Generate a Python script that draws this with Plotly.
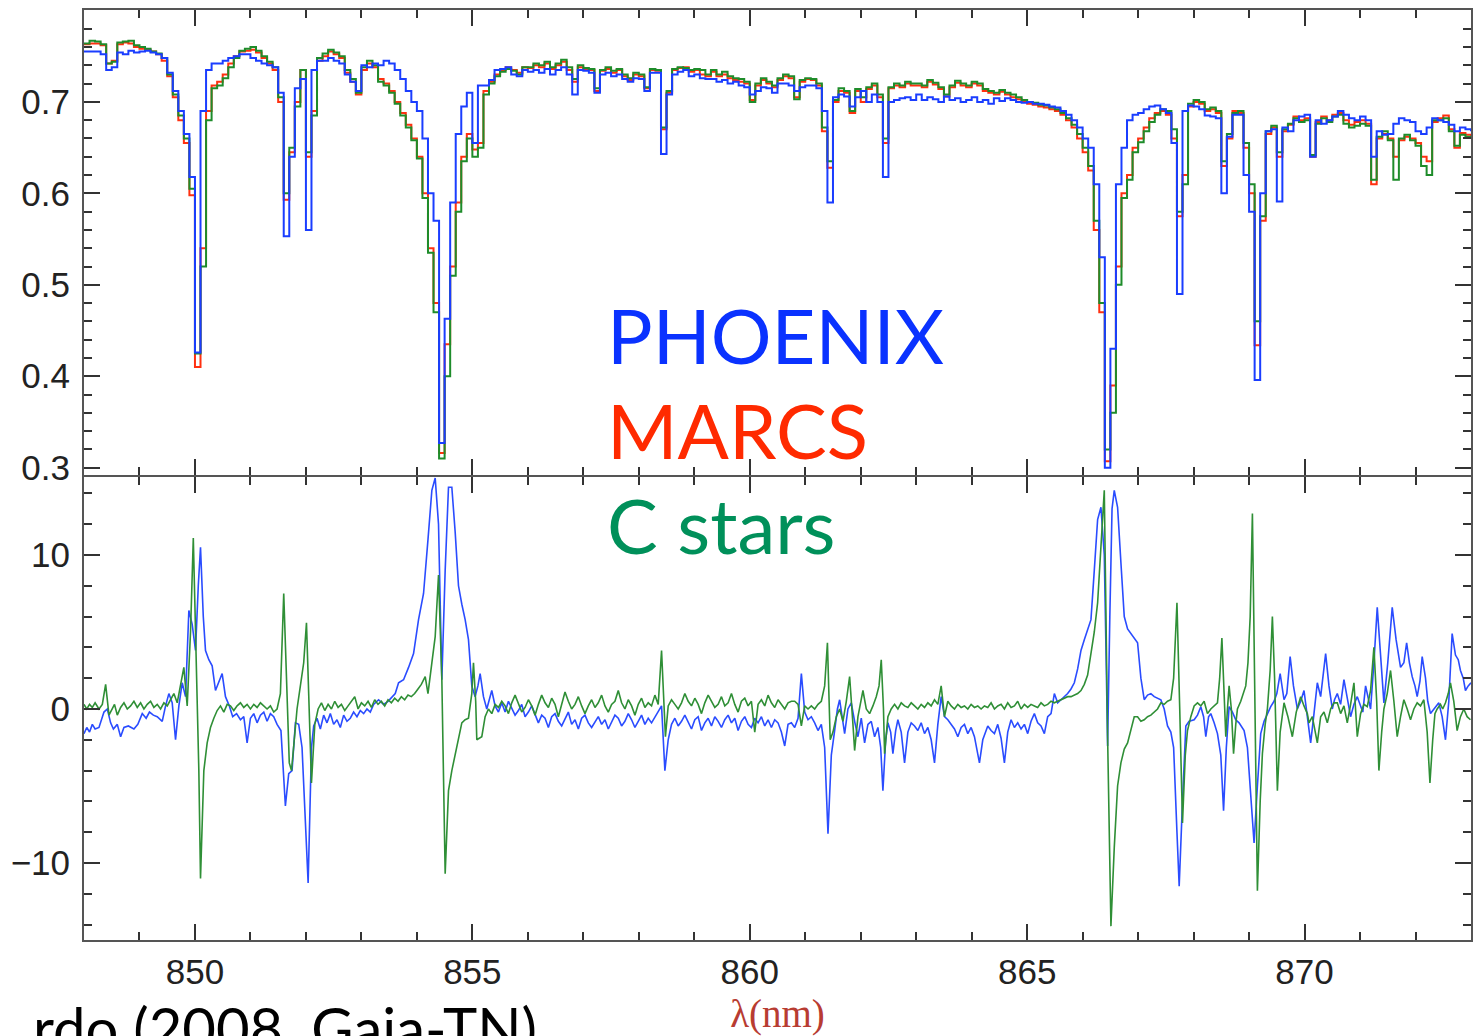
import plotly.graph_objects as go

# ---------------- top panel: normalised flux, 0.1 nm bins from 848.0 to 873.0 nm ----------------
wl_start = 848.0
wl_step = 0.1

marcs = [
    .763, .764, .764, .762, .742, .745, .763, .765, .764, .760,
    .758, .757, .755, .752, .745, .728, .705, .680, .655, .598,
    .410, .540, .690, .718, .722, .730, .742, .750, .755, .756,
    .757, .754, .748, .742, .735, .700, .593, .645, .700, .735,
    .640, .690, .745, .750, .755, .752, .748, .732, .722, .708,
    .735, .742, .738, .725, .720, .712, .700, .688, .675, .660,
    .640, .600, .540, .480, .316, .435, .520, .590, .640, .665,
    .648, .655, .712, .722, .730, .735, .738, .735, .732, .738,
    .737, .740, .738, .742, .736, .740, .744, .735, .722, .738,
    .736, .735, .712, .734, .736, .732, .735, .728, .724, .730,
    .728, .715, .735, .734, .670, .710, .735, .737, .738, .733,
    .735, .730, .728, .733, .728, .730, .726, .724, .722, .720,
    .702, .718, .724, .720, .716, .724, .728, .726, .705, .722,
    .725, .724, .718, .668, .628, .700, .712, .710, .688, .712,
    .700, .714, .718, .705, .655, .715, .718, .716, .720, .718,
    .718, .716, .722, .719, .714, .706, .716, .721, .718, .716,
    .720, .718, .712, .710, .708, .711, .708, .705, .703, .700,
    .698, .697, .695, .694, .692, .690, .686, .680, .672, .660,
    .645, .625, .560, .470, .307, .390, .520, .600, .620, .650,
    .660, .672, .682, .688, .690, .686, .660, .575, .620, .695,
    .700, .698, .690, .692, .688, .630, .660, .690, .688, .650,
    .600, .434, .570, .665, .672, .640, .668, .675, .684, .680,
    .682, .640, .678, .684, .680, .686, .688, .680, .675, .678,
    .680, .676, .610, .660, .665, .660, .640, .658, .662, .660,
    .655, .640, .635, .678, .682, .685, .670, .650, .666, .664,
    .662,
]

cstars = [
    .764, .767, .766, .763, .742, .744, .765, .766, .767, .762,
    .760, .758, .755, .753, .748, .730, .708, .685, .660, .605,
    .425, .520, .680, .715, .718, .726, .738, .748, .756, .758,
    .760, .756, .750, .744, .738, .705, .600, .650, .695, .735,
    .645, .685, .748, .753, .757, .754, .750, .735, .725, .710,
    .738, .745, .740, .722, .718, .710, .698, .685, .672, .658,
    .638, .595, .535, .470, .310, .400, .510, .580, .635, .660,
    .640, .650, .708, .720, .728, .733, .736, .734, .730, .738,
    .738, .742, .740, .744, .738, .742, .746, .738, .725, .740,
    .737, .736, .715, .735, .738, .734, .736, .730, .726, .732,
    .730, .716, .736, .735, .672, .712, .736, .738, .737, .735,
    .736, .735, .730, .735, .730, .733, .728, .726, .725, .722,
    .700, .720, .726, .722, .718, .726, .730, .728, .703, .724,
    .726, .725, .720, .672, .635, .702, .715, .712, .690, .714,
    .705, .716, .720, .708, .660, .716, .720, .718, .722, .720,
    .720, .718, .724, .721, .716, .708, .718, .723, .720, .718,
    .722, .720, .714, .712, .710, .713, .710, .708, .705, .702,
    .700, .699, .697, .696, .694, .692, .688, .682, .675, .665,
    .650, .630, .570, .480, .320, .360, .500, .595, .615, .645,
    .656, .668, .678, .686, .692, .690, .670, .580, .610, .698,
    .702, .700, .692, .694, .690, .635, .665, .688, .690, .655,
    .610, .460, .575, .668, .674, .645, .670, .676, .682, .678,
    .680, .642, .676, .682, .678, .684, .686, .676, .672, .674,
    .676, .674, .615, .662, .668, .658, .615, .660, .664, .658,
    .652, .630, .620, .680, .680, .682, .668, .652, .664, .662,
    .660,
]

phoenix = [
    .755, .755, .755, .752, .735, .738, .754, .752, .756, .754,
    .755, .756, .754, .752, .748, .732, .712, .690, .665, .618,
    .426, .690, .735, .742, .742, .745, .748, .750, .752, .752,
    .748, .745, .742, .740, .738, .710, .553, .640, .715, .725,
    .560, .735, .745, .745, .748, .745, .742, .730, .722, .712,
    .740, .738, .742, .740, .745, .742, .735, .725, .712, .700,
    .690, .660, .600, .570, .327, .463, .590, .665, .695, .710,
    .655, .718, .718, .724, .735, .736, .738, .730, .728, .735,
    .733, .735, .732, .736, .730, .735, .738, .730, .708, .735,
    .734, .732, .710, .730, .732, .728, .730, .725, .722, .726,
    .725, .712, .732, .732, .643, .708, .730, .733, .735, .728,
    .730, .726, .725, .725, .722, .724, .720, .722, .718, .716,
    .708, .712, .716, .715, .710, .720, .720, .718, .712, .716,
    .718, .718, .715, .690, .590, .705, .708, .706, .695, .705,
    .712, .700, .708, .700, .618, .700, .702, .704, .705, .702,
    .708, .702, .705, .703, .700, .706, .702, .704, .700, .702,
    .705, .700, .702, .698, .704, .701, .704, .702, .700, .699,
    .700, .698, .698, .697, .695, .694, .690, .686, .680, .672,
    .660, .650, .610, .530, .300, .430, .610, .650, .680, .686,
    .688, .692, .695, .696, .692, .688, .655, .490, .690, .696,
    .695, .692, .685, .684, .682, .600, .662, .686, .686, .620,
    .580, .396, .600, .668, .670, .591, .672, .668, .680, .684,
    .686, .640, .680, .676, .680, .684, .690, .686, .682, .680,
    .684, .680, .640, .668, .664, .665, .676, .682, .680, .678,
    .668, .665, .672, .682, .680, .678, .675, .668, .672, .670,
    .668,
]

# ---------------- bottom panel: difference signal (PHOENIX and C stars) ----------------
phx_diff_wl = [
    848.00, 848.05, 848.10, 848.15, 848.20, 848.27, 848.36, 848.42, 848.48, 848.53,
    848.60, 848.66, 848.72, 848.80, 848.90, 848.97, 849.05, 849.12, 849.18, 849.25,
    849.32, 849.41, 849.47, 849.53, 849.59, 849.65, 849.71, 849.77, 849.83, 849.89,
    849.95, 850.01, 850.06, 850.10, 850.15, 850.19, 850.25, 850.31, 850.37, 850.43,
    850.49, 850.55, 850.62, 850.68, 850.75, 850.82, 850.88, 850.94, 851.00, 851.06,
    851.12, 851.18, 851.24, 851.30, 851.36, 851.42, 851.48, 851.55, 851.63, 851.69,
    851.75, 851.81, 851.87, 851.93, 852.04, 852.10, 852.14, 852.20, 852.26, 852.32,
    852.38, 852.44, 852.50, 852.56, 852.62, 852.68, 852.74, 852.80, 852.86, 852.92,
    852.98, 853.04, 853.10, 853.16, 853.22, 853.31, 853.40, 853.48, 853.55, 853.61,
    853.67, 853.76, 853.85, 853.94, 854.03, 854.12, 854.20, 854.27, 854.33, 854.39,
    854.45, 854.51, 854.57, 854.63, 854.69, 854.75, 854.81, 854.87, 854.93, 854.99,
    855.05, 855.10, 855.14, 855.20, 855.26, 855.31, 855.35, 855.41, 855.47, 855.53,
    855.59, 855.65, 855.71, 855.77, 855.83, 855.89, 855.95, 856.01, 856.07, 856.13,
    856.19, 856.25, 856.31, 856.37, 856.43, 856.49, 856.55, 856.61, 856.67, 856.73,
    856.79, 856.85, 856.91, 856.97, 857.03, 857.09, 857.15, 857.21, 857.27, 857.33,
    857.39, 857.45, 857.51, 857.57, 857.63, 857.69, 857.75, 857.81, 857.87, 857.93,
    857.99, 858.05, 858.11, 858.17, 858.23, 858.29, 858.35, 858.41, 858.47, 858.53,
    858.59, 858.65, 858.71, 858.77, 858.83, 858.89, 858.95, 859.01, 859.07, 859.13,
    859.19, 859.25, 859.31, 859.37, 859.43, 859.49, 859.55, 859.61, 859.67, 859.73,
    859.79, 859.85, 859.91, 859.97, 860.03, 860.09, 860.15, 860.21, 860.27, 860.33,
    860.39, 860.45, 860.51, 860.57, 860.63, 860.69, 860.75, 860.81, 860.87, 860.93,
    860.99, 861.05, 861.11, 861.17, 861.23, 861.29, 861.35, 861.41, 861.47, 861.53,
    861.58, 861.62, 861.67, 861.71, 861.77, 861.83, 861.89, 861.95, 862.01, 862.07,
    862.13, 862.19, 862.25, 862.31, 862.36, 862.40, 862.45, 862.49, 862.54, 862.58,
    862.63, 862.67, 862.73, 862.79, 862.85, 862.91, 862.97, 863.03, 863.09, 863.15,
    863.21, 863.27, 863.33, 863.39, 863.45, 863.51, 863.57, 863.63, 863.69, 863.75,
    863.81, 863.87, 863.93, 863.99, 864.05, 864.14, 864.20, 864.29, 864.35, 864.41,
    864.47, 864.53, 864.59, 864.65, 864.71, 864.77, 864.83, 864.89, 864.95, 865.01,
    865.07, 865.13, 865.19, 865.25, 865.31, 865.37, 865.43, 865.49, 865.55, 865.61,
    865.67, 865.73, 865.79, 865.85, 865.91, 865.97, 866.03, 866.09, 866.15, 866.21,
    866.27, 866.33, 866.39, 866.42, 866.45, 866.49, 866.53, 866.57, 866.63, 866.69,
    866.75, 866.81, 866.87, 866.93, 866.99, 867.05, 867.11, 867.17, 867.23, 867.29,
    867.35, 867.41, 867.47, 867.53, 867.59, 867.64, 867.70, 867.74, 867.80, 867.86,
    867.92, 868.01, 868.07, 868.13, 868.18, 868.22, 868.27, 868.31, 868.37, 868.43,
    868.49, 868.54, 868.59, 868.64, 868.70, 868.76, 868.82, 868.91, 868.97, 869.03,
    869.09, 869.15, 869.21, 869.27, 869.33, 869.39, 869.45, 869.50, 869.56, 869.63,
    869.68, 869.74, 869.80, 869.87, 869.93, 869.99, 870.05, 870.11, 870.17, 870.23,
    870.29, 870.38, 870.44, 870.50, 870.54, 870.59, 870.65, 870.71, 870.77, 870.83,
    870.89, 870.95, 871.01, 871.05, 871.10, 871.15, 871.19, 871.25, 871.31, 871.37,
    871.43, 871.50, 871.58, 871.65, 871.73, 871.79, 871.84, 871.89, 871.94, 871.99,
    872.03, 872.08, 872.12, 872.18, 872.22, 872.27, 872.33, 872.42, 872.48, 872.54,
    872.60, 872.66, 872.72, 872.77, 872.81, 872.86, 872.90, 872.95, 873.00,
]
phx_diff = [
    -1.6, -1.2, -1.5, -1.0, -1.3, -1.2, -0.2, 0.0, -0.9, -1.3,
    -1.0, -1.8, -1.2, -1.1, -1.3, -1.0, -0.3, -0.6, -0.2, -0.4,
    -0.5, -0.8, 0.2, 1.0, 0.4, -2.0, 0.2, 1.7, 0.8, 6.4,
    5.5, 3.8, 8.0, 10.5, 6.0, 3.8, 3.2, 2.8, 1.2, 1.8,
    2.3, 0.8, 0.2, -0.5, -0.3, -0.7, -0.5, -2.2, -0.6, -0.3,
    -0.9, -0.4, -0.2, -0.8, -0.3, -0.5, -1.0, -1.4, -6.3, -4.2,
    -4.0, -0.9, -1.0, -2.5, -11.3, -2.5, -1.1, -0.6, -1.3, -0.4,
    -0.9, -0.3, -1.0, -0.7, -1.2, -0.4, -0.8, -0.6, -0.2, -0.5,
    -0.1, -0.3, 0.0, -0.2, 0.3, 0.6, 0.3, 0.5, 0.8, 1.0,
    1.7, 1.9, 2.7, 3.6, 5.8, 7.5, 11.0, 14.2, 15.0, 12.0,
    1.9, 9.0, 14.4, 14.4, 11.5, 8.0, 6.8, 5.8, 4.5, 1.5,
    0.8, 1.5, 2.3, 0.8, 0.0, 0.6, 1.2, 0.2, -0.2, 0.4,
    -0.2, 0.5, 0.1, -0.4, -0.1, 0.3, -0.5, -0.2, 0.2, -0.3,
    -0.9, -0.4, -0.6, -1.2, -0.5, -0.3, -0.8, -1.1, -0.6, -0.2,
    -1.0, -0.7, -1.3, -0.6, -0.4, -0.9, -1.2, -0.8, -0.5, -1.0,
    -0.7, -1.3, -0.9, -0.4, -0.6, -1.1, -0.8, -0.3, -0.7, -1.2,
    -0.8, -0.4, -1.0, -0.6, -0.9, -0.5, -0.2, 0.2, -4.0, -2.0,
    -1.0, -0.6, -1.1, -0.8, -0.4, -0.9, -1.3, -0.7, -0.5, -1.4,
    -0.9, -0.6, -1.1, -0.5, -0.8, -1.2, -0.7, -0.4, -0.9, -0.6,
    -1.4, -0.8, -0.5, -1.0, -1.2, -0.6, -0.9, -0.5, -1.1, -0.7,
    -1.2, -0.7, -0.9, -1.5, -2.4, -1.0, -0.9, -1.2, -0.6, 2.3,
    -0.2, -0.7, -0.5, -0.9, -1.4, -1.0, -2.5, -8.1, -3.0, -1.4,
    0.0, 0.6, -0.5, -1.6, 0.0, 0.4, -0.8, -1.8, -0.6, -2.2,
    -1.0, -0.8, -1.8, -1.2, -2.5, -5.3, -2.0, -0.9, -1.5, -2.9,
    -1.4, -0.7, -1.5, -3.5, -1.5, -0.9, -1.1, -1.4, -0.9, -1.6,
    -1.2, -2.0, -3.5, -1.0, 0.8, -0.5, -0.7, -1.0, -1.3, -1.8,
    -1.2, -1.0, -1.6, -1.2, -1.8, -3.5, -2.0, -1.1, -1.4, -1.6,
    -1.0, -1.9, -3.5, -1.5, -0.7, -1.2, -0.9, -1.3, -1.0, -1.6,
    -0.8, -0.3, -0.9, -1.1, -1.6, -0.5, -0.3, 1.0, 0.4, 0.6,
    0.8, 1.0, 1.3, 1.7, 2.6, 3.8, 4.5, 5.2, 5.8, 9.0,
    12.3, 13.1, 10.0, 4.0, -2.4, 6.0, 13.0, 14.2, 13.1, 9.5,
    6.0, 5.2, 4.9, 4.6, 4.3, 2.0, 0.6, 0.9, 1.0, 0.8,
    0.7, 0.6, 0.0, -1.1, -1.5, -2.5, -8.0, -11.5, -6.0, -1.1,
    -0.8, -0.7, -0.4, 0.15, -0.5, -1.8, -0.5, -0.3, -0.9, -1.6,
    -3.0, -6.6, -2.5, 0.15, -0.2, -0.7, -0.9, -1.4, -2.5, -5.5,
    -8.7, -5.0, -1.6, -0.8, -0.3, 0.15, 0.5, 1.0, 2.3, 0.6,
    1.0, 3.4, 1.5, 0.0, 0.5, 1.2, -0.5, -2.2, -0.3, 1.7,
    0.8, 3.6, 1.5, 0.0, 0.6, 1.0, 0.3, 1.9, 0.7, -0.5,
    0.3, 0.8, 0.2, -0.2, 1.5, 0.7, 0.0, 3.0, 6.6, 3.5,
    0.4, 3.0, 6.6, 4.5, 2.7, 3.0, 4.3, 3.0, 2.1, 1.5,
    0.8, 1.8, 3.4, 2.0, 0.5, -0.3, 0.0, 0.4, -0.5, -2.0,
    0.5, 4.9, 3.5, 3.2, 2.5, 2.0, 1.2, 1.5, 1.7,
]

cst_diff_wl = [
    848.00, 848.05, 848.10, 848.15, 848.20, 848.27, 848.33, 848.39, 848.45, 848.50,
    848.55, 848.60, 848.66, 848.72, 848.78, 848.84, 848.90, 848.96, 849.02, 849.08,
    849.14, 849.20, 849.26, 849.32, 849.38, 849.44, 849.50, 849.56, 849.62, 849.68,
    849.74, 849.80, 849.86, 849.92, 849.97, 850.02, 850.07, 850.10, 850.16, 850.22,
    850.28, 850.34, 850.40, 850.46, 850.52, 850.58, 850.64, 850.70, 850.76, 850.82,
    850.88, 850.94, 851.00, 851.06, 851.12, 851.18, 851.24, 851.30, 851.36, 851.42,
    851.48, 851.54, 851.60, 851.65, 851.70, 851.74, 851.78, 851.84, 851.90, 851.96,
    852.01, 852.06, 852.10, 852.16, 852.22, 852.28, 852.34, 852.40, 852.46, 852.52,
    852.58, 852.64, 852.70, 852.76, 852.82, 852.88, 852.94, 853.00, 853.06, 853.12,
    853.18, 853.24, 853.30, 853.36, 853.42, 853.48, 853.54, 853.60, 853.66, 853.72,
    853.78, 853.84, 853.90, 853.96, 854.02, 854.08, 854.15, 854.20, 854.27, 854.33,
    854.39, 854.42, 854.45, 854.51, 854.57, 854.63, 854.69, 854.75, 854.81, 854.87,
    854.93, 854.99, 855.02, 855.06, 855.08, 855.17, 855.23, 855.29, 855.35, 855.41,
    855.47, 855.53, 855.59, 855.65, 855.71, 855.77, 855.83, 855.89, 855.95, 856.01,
    856.07, 856.13, 856.19, 856.25, 856.31, 856.37, 856.43, 856.49, 856.55, 856.61,
    856.67, 856.73, 856.79, 856.85, 856.91, 856.97, 857.03, 857.09, 857.15, 857.21,
    857.27, 857.33, 857.39, 857.45, 857.51, 857.57, 857.63, 857.69, 857.75, 857.81,
    857.87, 857.93, 857.99, 858.05, 858.11, 858.17, 858.23, 858.29, 858.35, 858.41,
    858.44, 858.48, 858.53, 858.59, 858.65, 858.71, 858.77, 858.83, 858.89, 858.95,
    859.01, 859.07, 859.13, 859.19, 859.25, 859.31, 859.37, 859.43, 859.49, 859.55,
    859.61, 859.67, 859.73, 859.79, 859.85, 859.91, 859.97, 860.03, 860.09, 860.15,
    860.21, 860.27, 860.33, 860.39, 860.45, 860.51, 860.57, 860.63, 860.69, 860.75,
    860.81, 860.87, 860.93, 860.99, 861.05, 861.11, 861.17, 861.23, 861.29, 861.35,
    861.40, 861.45, 861.50, 861.56, 861.62, 861.68, 861.74, 861.80, 861.86, 861.89,
    861.95, 862.01, 862.04, 862.10, 862.16, 862.22, 862.28, 862.33, 862.37, 862.41,
    862.43, 862.49, 862.55, 862.61, 862.67, 862.73, 862.79, 862.85, 862.91, 862.97,
    863.03, 863.09, 863.15, 863.21, 863.27, 863.33, 863.39, 863.45, 863.51, 863.57,
    863.63, 863.69, 863.75, 863.81, 863.87, 863.93, 863.99, 864.05, 864.11, 864.17,
    864.23, 864.29, 864.35, 864.41, 864.47, 864.53, 864.59, 864.65, 864.71, 864.77,
    864.83, 864.89, 864.95, 865.01, 865.07, 865.13, 865.19, 865.25, 865.31, 865.37,
    865.43, 865.49, 865.55, 865.61, 865.67, 865.73, 865.79, 865.85, 865.91, 865.97,
    866.03, 866.09, 866.15, 866.21, 866.27, 866.33, 866.39, 866.45, 866.51, 866.57,
    866.63, 866.69, 866.75, 866.81, 866.87, 866.93, 866.99, 867.05, 867.11, 867.17,
    867.23, 867.29, 867.35, 867.41, 867.47, 867.53, 867.59, 867.64, 867.70, 867.75,
    867.80, 867.85, 867.89, 867.95, 868.01, 868.07, 868.13, 868.19, 868.25, 868.31,
    868.37, 868.43, 868.47, 868.51, 868.55, 868.58, 868.61, 868.64, 868.68, 868.72,
    868.76, 868.79, 868.85, 868.90, 868.94, 868.98, 869.02, 869.06, 869.10, 869.15,
    869.20, 869.24, 869.29, 869.33, 869.38, 869.42, 869.46, 869.51, 869.56, 869.63,
    869.70, 869.78, 869.85, 869.93, 869.99, 870.05, 870.08, 870.14, 870.23, 870.29,
    870.35, 870.41, 870.47, 870.53, 870.59, 870.65, 870.71, 870.77, 870.83, 870.89,
    870.95, 871.01, 871.07, 871.13, 871.19, 871.25, 871.30, 871.34, 871.39, 871.43,
    871.49, 871.55, 871.61, 871.67, 871.73, 871.79, 871.85, 871.91, 871.97, 872.03,
    872.09, 872.15, 872.21, 872.26, 872.31, 872.35, 872.39, 872.45, 872.49, 872.54,
    872.59, 872.63, 872.69, 872.75, 872.81, 872.87, 872.93, 872.99,
]
cst_diff = [
    0.3, 0.0, 0.3, 0.1, 0.4, 0.0, 0.3, 1.6, -0.4, 0.0,
    0.3, -0.4, 0.1, 0.4, 0.0, 0.2, 0.5, 0.1, 0.4, 0.0,
    0.3, 0.5, 0.1, 0.3, 0.0, 0.4, 0.2, 0.6, 1.0, 0.4,
    1.5, 2.7, 0.2, 5.0, 11.1, 4.0, -4.0, -11.0, -4.0, -2.2,
    -1.2, -0.6, -0.1, 0.2, -0.2, 0.3, 0.2, -0.1, 0.2, 0.4,
    0.1, 0.3, 0.0, 0.3, 0.1, 0.4, 0.2, 0.0, 0.2, -0.2,
    0.0, 1.0, 7.5, 2.0, -3.5, -4.0, -2.5, 0.0, 1.5, 3.0,
    5.6, 0.0, -4.8, -1.0, 0.0, 0.4, -0.1, 0.3, 0.0, 0.5,
    0.1, 0.3, -0.1, 0.2, 0.5, 0.8, 0.0, 0.4, 0.2, 0.5,
    0.1, 0.6, 0.3, 0.5, 0.2, 0.6, 0.4, 0.7, 0.5, 0.8,
    0.6, 0.9, 0.8, 1.0, 1.3, 1.6, 2.1, 1.0, 3.0, 4.7,
    8.7, 5.0, 1.9, -10.7, -5.3, -4.0, -2.9, -1.8, -0.9, -0.7,
    -0.6, 1.0, 3.0, 0.5, -2.0, -1.8, -0.5, 0.0, -0.3, 0.3,
    0.1, 0.5, 0.2, -0.3, 0.4, 0.9, 0.3, -0.2, 0.1, 0.6,
    0.2, -0.4, 0.3, 0.9, 0.4, 0.1, 0.7, 0.3, -0.5, 0.4,
    1.1, 0.5, 0.0, 0.3, 0.8, 0.2, -0.3, 0.2, 0.6, 0.1,
    0.4, 0.9, 0.2, -0.2, 0.3, 0.5, 1.2, 0.4, 0.0, 0.6,
    0.2, -0.4, 0.3, 0.7, 0.1, 0.4, 0.2, 0.9, 0.3, 3.8,
    1.5, -1.8, 0.2, 0.6, 0.3, 0.0, 0.4, 1.0, 0.5, 0.2,
    0.7, 0.3, -0.3, 0.4, 0.9, 0.5, 0.1, 0.3, 0.8, 0.2,
    0.4, 1.0, 0.3, -0.2, 0.5, 0.7, 0.2, 0.5, -1.5, 0.3,
    0.6, 0.2, 0.9, 0.4, 0.1, 0.6, 0.3, 0.0, 0.4, 0.5,
    0.5, 0.3, -1.1, 0.2, 0.0, 0.2, 0.0, 0.3, 0.5, 1.5,
    4.3, -2.0, -1.5, -0.5, 0.0, -0.8, 0.5, 2.1, -1.0, -2.7,
    -0.5, 0.5, 1.2, 0.0, -0.3, 0.2, 0.8, 1.5, 3.2, 0.0,
    -2.9, -0.5, 0.0, 0.3, 0.0, 0.4, 0.2, 0.1, 0.4, 0.2,
    0.0, 0.3, 0.1, 0.4, 0.2, 0.6, 0.3, 1.5, -0.5, 0.5,
    0.2, 0.0, 0.3, 0.1, 0.2, 0.0, 0.3, 0.1, 0.2, 0.0,
    0.2, 0.1, 0.4, 0.0, 0.2, 0.3, 0.0, 0.4, 0.1, 0.2,
    0.5, 0.0, 0.3, 0.1, 0.3, 0.2, 0.1, 0.4, 0.2, 0.3,
    0.5, 0.4, 0.5, 0.6, 0.7, 0.8, 0.8, 0.9, 1.0, 1.2,
    1.6, 2.2, 3.5, 5.0, 6.9, 10.5, 14.2, -1.8, -14.1, -9.0,
    -5.0, -3.5, -2.6, -2.2, -1.3, -0.5, -0.5, -0.8, -0.7, -0.5,
    -0.4, -0.2, 0.0, 0.4, 0.3, 0.5, 0.6, 2.0, 6.9, 0.0,
    -7.4, -3.0, -1.4, -0.5, 0.2, 0.4, 0.2, 0.5, -0.3, 0.0,
    0.2, 0.4, 2.0, 4.6, 1.0, -1.8, 0.0, 1.5, 0.0, -2.9,
    -1.0, 0.0, 0.5, 1.0, 1.5, 3.0, 6.0, 12.7, 2.0, -11.8,
    -6.0, -2.9, -1.0, 0.0, 2.5, 6.0, 2.0, -5.3, -1.5, 0.4,
    -0.5, -1.8, -0.2, 0.8, 0.2, -0.3, -0.9, -0.5, -2.2, -0.5,
    -0.2, -0.9, 0.0, 0.4, 0.4, -0.3, 0.2, -0.9, 0.3, 1.7,
    -1.8, -0.3, 0.3, 0.15, 1.2, 4.0, 0.5, -4.0, -1.5, 0.0,
    1.0, 2.5, 0.5, -1.8, -0.5, 0.6, 0.0, -0.7, 0.0, 0.4,
    0.2, 0.6, -1.5, -4.8, -2.0, -0.3, 0.0, 0.3, 0.0, 0.4,
    1.0, 1.7, 0.5, -1.4, -0.5, 0.0, -0.5, -0.7,
]

top_wl = [round(wl_start + wl_step * i, 2) for i in range(len(marcs))]

labels = ["PHOENIX", "MARCS", "C stars"]
label_colors = ["#0a32ff", "#ff2a00", "#00905a"]

TICK_COL = "#333333"
AX_COL = "#555555"

fig = go.Figure()

# top panel (step spectra)
fig.add_trace(go.Scatter(x=top_wl, y=marcs, mode="lines", line=dict(color="#ff3010", width=2, shape="hv"),
                         xaxis="x2", yaxis="y2", name="MARCS"))
fig.add_trace(go.Scatter(x=top_wl, y=cstars, mode="lines", line=dict(color="#1e8c2a", width=2, shape="hv"),
                         xaxis="x2", yaxis="y2", name="C stars"))
fig.add_trace(go.Scatter(x=top_wl, y=phoenix, mode="lines", line=dict(color="#1a3dff", width=2, shape="hv"),
                         xaxis="x2", yaxis="y2", name="PHOENIX"))

# bottom panel
fig.add_trace(go.Scatter(x=phx_diff_wl, y=phx_diff, mode="lines", line=dict(color="#2a4cff", width=1.6),
                         xaxis="x", yaxis="y", name="PHOENIX diff"))
fig.add_trace(go.Scatter(x=cst_diff_wl, y=cst_diff, mode="lines", line=dict(color="#2f8f36", width=1.6),
                         xaxis="x", yaxis="y", name="C stars diff"))

tickfont = dict(family="Liberation Sans, Arial, sans-serif", size=35, color="#222222")

common_x = dict(
    range=[848, 873], tick0=850, dtick=5, ticks="inside", ticklen=16, tickwidth=2, tickcolor=TICK_COL,
    minor=dict(dtick=1, ticks="inside", ticklen=8, tickwidth=1.5, tickcolor=TICK_COL),
    showline=True, linecolor=AX_COL, linewidth=2, mirror="allticks",
    showgrid=False, zeroline=False,
)

fig.update_layout(
    width=1475, height=1036,
    margin=dict(l=84, r=2, t=10, b=96),
    paper_bgcolor="white", plot_bgcolor="white",
    showlegend=False,
    xaxis=dict(common_x, anchor="y", domain=[0, 1], tickfont=tickfont, ticklabelstandoff=0,
               title=dict(text="λ(nm)", font=dict(family="Liberation Serif, Times New Roman, serif",
                                                  size=39, color="#b83c32"), standoff=12)),
    xaxis2=dict(common_x, anchor="y2", matches="x", showticklabels=False),
    yaxis=dict(domain=[0, 0.4978], range=[-15, 15.06], tick0=0, dtick=10, ticks="inside", ticklen=16,
               tickwidth=2, tickcolor=TICK_COL,
               minor=dict(dtick=2, ticks="inside", ticklen=8, tickwidth=1.5, tickcolor=TICK_COL),
               showline=True, linecolor=AX_COL, linewidth=2, mirror="allticks",
               showgrid=False, zeroline=False, tickfont=tickfont, ticklabelstandoff=5),
    yaxis2=dict(domain=[0.5, 1], range=[0.292, 0.8005], tick0=0.3, dtick=0.1, ticks="inside", ticklen=16,
                tickwidth=2, tickcolor=TICK_COL, tickformat=".1f",
                minor=dict(dtick=0.02, ticks="inside", ticklen=8, tickwidth=1.5, tickcolor=TICK_COL),
                showline=True, linecolor=AX_COL, linewidth=2, mirror="allticks",
                showgrid=False, zeroline=False, tickfont=tickfont, ticklabelstandoff=5),
)

# model labels
label_y = [0.6515, 0.5493, 0.4472]
for txt, col, yy in zip(labels, label_colors, label_y):
    fig.add_annotation(text=txt, xref="paper", yref="paper", x=0.3758, y=yy, xanchor="left", yanchor="middle",
                       showarrow=False, font=dict(family="Lato, Open Sans, sans-serif", size=76, color=col))

# source credit (cut by the page edge in the original)
fig.add_annotation(text="rdo (2008, Gaia-TN)", xref="paper", yref="paper", x=0.328, y=-0.0946,
                   xanchor="right", yanchor="middle", showarrow=False,
                   font=dict(family="Lato, Open Sans, sans-serif", size=58, color="#000000"))

fig.write_html("out.html")
